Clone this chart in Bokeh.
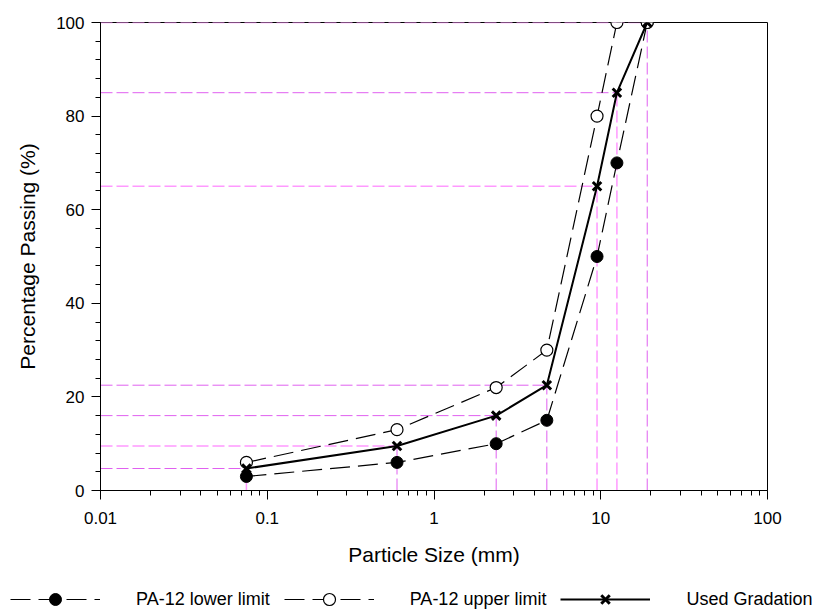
from bokeh.plotting import figure
from bokeh.layouts import column
from bokeh.models import (Range1d, FixedTicker, SingleIntervalTicker, CustomJSTickFormatter,
                          Legend, LegendItem)
from bokeh.embed import file_html
from bokeh.resources import INLINE

# ---- data ----
sizes = [0.075, 0.6, 2.36, 4.75, 9.5, 12.5, 19]
lower = [3, 6, 10, 15, 50, 70, 100]
upper = [6, 13, 22, 30, 80, 100, 100]
used = [4.7, 9.5, 16, 22.5, 65, 85, 100]

x_major = [0.01, 0.1, 1, 10, 100]
y_major_step = 20

labels = ["PA-12 lower limit", "PA-12 upper limit", "Used Gradation"]
x_title = "Particle Size (mm)"
y_title = "Percentage Passing (%)"

FONT = "Liberation Sans"
DARK_REF = "#e060f0"
LIGHT_REF = "#ff99ff"
h_light = [False, True, False, False, True, False, True]
v_light = [True, False, False, False, True, True, False]

W, H, LH = 822, 580, 34
p = figure(width=W, height=H, x_axis_type="log",
           x_range=Range1d(x_major[0], x_major[-1]), y_range=Range1d(0, 100),
           output_backend="svg", toolbar_location=None,
           min_border_left=100, min_border_right=W - 767, min_border_top=22,
           min_border_bottom=H - 490)
p.frame_align = False
p.grid.visible = False
p.outline_line_color = "black"
p.outline_line_width = 1
p.background_fill_color = "white"

# reference (guide) lines
x0 = p.x_range.start
for i in range(len(sizes)):
    p.segment(x0=[x0], y0=[used[i]], x1=[sizes[i]], y1=[used[i]],
              line_color=LIGHT_REF if h_light[i] else DARK_REF,
              line_width=1.5 if h_light[i] else 1.0, line_dash="12 4")
    p.segment(x0=[sizes[i]], y0=[0], x1=[sizes[i]], y1=[used[i]],
              line_color=LIGHT_REF if v_light[i] else DARK_REF,
              line_width=1.5 if v_light[i] else 1.0, line_dash="12 4")

# series styles
st_lower = dict(line=dict(line_color="black", line_width=1.2, line_dash="20 8"),
                mark=dict(marker="circle", size=12, fill_color="black", line_color="black"))
st_upper = dict(line=dict(line_color="black", line_width=1.2, line_dash="20 8"),
                mark=dict(marker="circle", size=12, fill_color="white", line_color="black",
                          line_width=1.2))
st_used = dict(line=dict(line_color="black", line_width=2),
               mark=dict(marker="x", size=12, line_color="black", line_width=3))
series = ((lower, st_lower), (upper, st_upper), (used, st_used))

for ys, st in series:
    p.line(sizes, ys, **st["line"])
    p.scatter(sizes, ys, **st["mark"])

# axes
minor = []
for k in range(len(x_major) - 1):
    minor += [x_major[k] * m for m in range(2, 10)]
p.xaxis.ticker = FixedTicker(ticks=x_major, minor_ticks=minor)
p.xaxis.formatter = CustomJSTickFormatter(code="return String(Number(tick.toPrecision(6)));")
p.yaxis.ticker = SingleIntervalTicker(interval=y_major_step, num_minor_ticks=5)

for ax in (p.xaxis[0], p.yaxis[0]):
    ax.axis_line_color = "black"
    ax.major_tick_line_color = "black"
    ax.minor_tick_line_color = "black"
    ax.major_tick_in = 0
    ax.major_tick_out = 9
    ax.minor_tick_in = 0
    ax.minor_tick_out = 5
    ax.major_label_text_font = FONT
    ax.major_label_text_font_size = "17px"
    ax.major_label_text_color = "black"
    ax.axis_label_text_font = FONT
    ax.axis_label_text_font_size = "21px"
    ax.axis_label_text_font_style = "normal"
    ax.axis_label_text_color = "black"

p.xaxis.axis_label = x_title
p.yaxis.axis_label = y_title
p.xaxis.major_label_standoff = 12
p.yaxis.major_label_standoff = 7
p.xaxis.axis_label_standoff = 16
p.yaxis.axis_label_standoff = 14

# legend strip (separate figure so it can span the full width);
# its renderers hold the same data but lie outside its visible range
lf = figure(width=W, height=LH, x_range=Range1d(0, 1), y_range=Range1d(-2, -1),
            output_backend="svg", toolbar_location=None,
            x_axis_location=None, y_axis_location=None,
            min_border_left=0, min_border_right=0, min_border_top=0, min_border_bottom=0)
lf.frame_align = False
lf.grid.visible = False
lf.outline_line_color = None
items = []
for lab, (ys, st) in zip(labels, series):
    r1 = lf.line(sizes, ys, **st["line"])
    r2 = lf.scatter(sizes, ys, **st["mark"])
    items.append(LegendItem(label=lab, renderers=[r1, r2]))
legend = Legend(items=items, orientation="horizontal", location=(10, 0),
                glyph_width=90, glyph_height=30, label_standoff=36, spacing=14,
                padding=0, margin=0, border_line_color=None, background_fill_alpha=0,
                label_text_font=FONT, label_text_font_size="18px", label_text_color="black")
lf.add_layout(legend, "center")

open("out.html", "w").write(file_html(column(p, lf, spacing=0), INLINE))
